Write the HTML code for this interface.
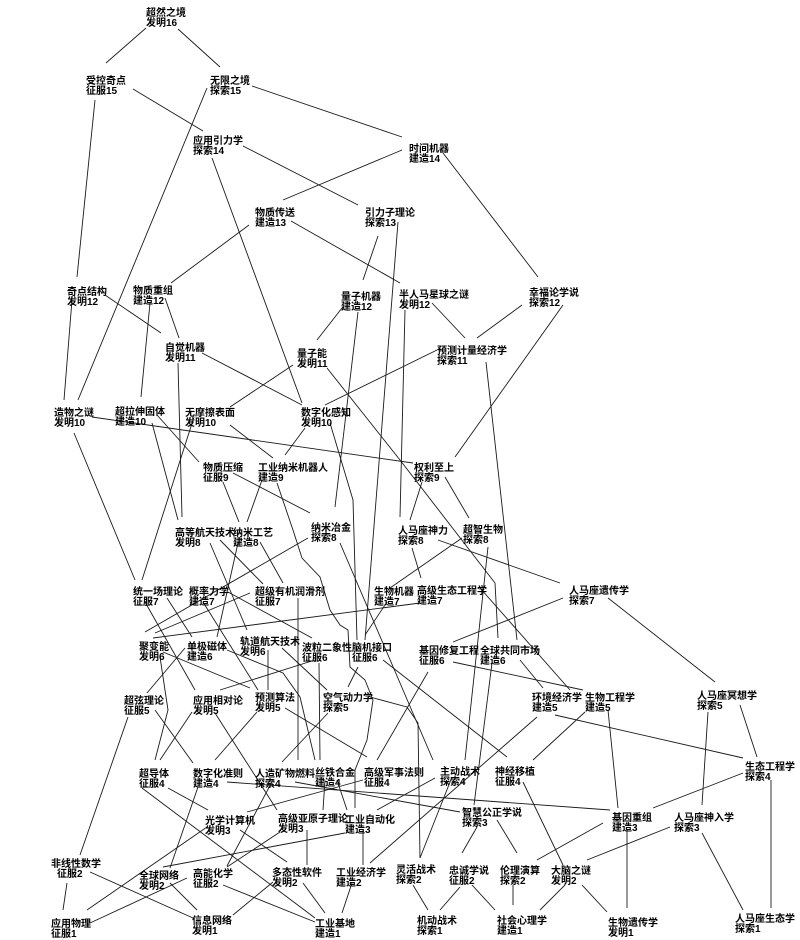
<!DOCTYPE html>
<html><head><meta charset="utf-8"><style>
html,body{margin:0;padding:0;background:#fff;}
svg{display:block;}
text{font-family:"Liberation Sans","Noto Sans CJK SC","WenQuanYi Zen Hei",sans-serif;font-size:10px;font-weight:bold;fill:#000;}
</style></head><body>
<svg width="800" height="940" viewBox="0 0 800 940" xmlns="http://www.w3.org/2000/svg">
<g stroke="#1a1a1a" stroke-width="0.9" fill="none">
<line x1="146" y1="28" x2="106" y2="63"/>
<line x1="178" y1="29" x2="220" y2="67"/>
<line x1="133" y1="89" x2="203" y2="131"/>
<line x1="95" y1="100" x2="77" y2="277"/>
<line x1="207" y1="88" x2="78" y2="400"/>
<line x1="252" y1="86" x2="402" y2="137"/>
<line x1="402" y1="150" x2="283" y2="200"/>
<line x1="243" y1="146" x2="358" y2="205"/>
<line x1="212" y1="158" x2="302" y2="403"/>
<line x1="249" y1="225" x2="171" y2="283"/>
<line x1="291" y1="221" x2="400" y2="283"/>
<line x1="378" y1="236" x2="363" y2="280"/>
<line x1="398" y1="222" x2="365" y2="640"/>
<line x1="443" y1="153" x2="538" y2="277"/>
<line x1="105" y1="295" x2="161" y2="333"/>
<line x1="72" y1="300" x2="64" y2="400"/>
<line x1="150" y1="303" x2="141" y2="397"/>
<line x1="165" y1="298" x2="179" y2="338"/>
<line x1="342" y1="308" x2="317" y2="340"/>
<line x1="358" y1="312" x2="335" y2="507"/>
<line x1="202" y1="353" x2="302" y2="405"/>
<line x1="178" y1="363" x2="182" y2="517"/>
<line x1="293" y1="365" x2="230" y2="407"/>
<polyline points="327,368 400,460 495,583 498,638"/>
<line x1="305" y1="428" x2="285" y2="455"/>
<polyline points="330,423 353,500 357,640"/>
<line x1="437" y1="350" x2="325" y2="405"/>
<line x1="92" y1="417" x2="413" y2="463"/>
<line x1="74" y1="433" x2="135" y2="580"/>
<line x1="157" y1="415" x2="199" y2="462"/>
<line x1="152" y1="423" x2="178" y2="520"/>
<line x1="194" y1="417" x2="142" y2="580"/>
<line x1="230" y1="425" x2="273" y2="458"/>
<line x1="223" y1="482" x2="239" y2="522"/>
<line x1="233" y1="473" x2="310" y2="513"/>
<line x1="262" y1="480" x2="247" y2="522"/>
<polyline points="277,483 293,530 302,558 320,577 330,610 340,625 348,630 350,667 365,680 373,700 367,740 355,770 355,808"/>
<line x1="308" y1="538" x2="145" y2="632"/>
<line x1="340" y1="543" x2="433" y2="760"/>
<line x1="210" y1="543" x2="247" y2="630"/>
<line x1="220" y1="540" x2="263" y2="584"/>
<line x1="238" y1="543" x2="217" y2="637"/>
<line x1="260" y1="542" x2="283" y2="583"/>
<line x1="298" y1="598" x2="298" y2="760"/>
<line x1="250" y1="593" x2="155" y2="633"/>
<line x1="145" y1="602" x2="195" y2="690"/>
<line x1="167" y1="598" x2="192" y2="637"/>
<line x1="203" y1="602" x2="258" y2="690"/>
<line x1="228" y1="592" x2="312" y2="638"/>
<line x1="153" y1="638" x2="420" y2="603"/>
<line x1="387" y1="602" x2="365" y2="635"/>
<line x1="405" y1="310" x2="400" y2="517"/>
<line x1="432" y1="303" x2="465" y2="338"/>
<line x1="522" y1="305" x2="477" y2="338"/>
<line x1="563" y1="305" x2="455" y2="457"/>
<line x1="486" y1="362" x2="517" y2="640"/>
<line x1="422" y1="482" x2="410" y2="520"/>
<line x1="445" y1="477" x2="469" y2="518"/>
<line x1="488" y1="547" x2="465" y2="760"/>
<line x1="462" y1="538" x2="390" y2="588"/>
<line x1="438" y1="540" x2="560" y2="583"/>
<line x1="412" y1="548" x2="421" y2="578"/>
<line x1="480" y1="588" x2="570" y2="690"/>
<line x1="563" y1="598" x2="453" y2="642"/>
<line x1="608" y1="598" x2="715" y2="682"/>
<line x1="453" y1="662" x2="583" y2="690"/>
<line x1="428" y1="672" x2="377" y2="760"/>
<line x1="492" y1="663" x2="474" y2="805"/>
<line x1="520" y1="660" x2="543" y2="688"/>
<line x1="383" y1="660" x2="507" y2="757"/>
<line x1="555" y1="715" x2="743" y2="758"/>
<line x1="537" y1="717" x2="370" y2="863"/>
<line x1="585" y1="712" x2="533" y2="760"/>
<line x1="608" y1="710" x2="618" y2="808"/>
<line x1="740" y1="705" x2="757" y2="757"/>
<line x1="708" y1="712" x2="702" y2="805"/>
<line x1="743" y1="773" x2="653" y2="808"/>
<line x1="771" y1="780" x2="771" y2="908"/>
<line x1="227" y1="782" x2="610" y2="810"/>
<line x1="295" y1="782" x2="460" y2="812"/>
<line x1="452" y1="777" x2="420" y2="858"/>
<line x1="435" y1="778" x2="377" y2="810"/>
<polyline points="370,697 407,707 418,723 420,858"/>
<line x1="477" y1="827" x2="462" y2="853"/>
<line x1="497" y1="820" x2="517" y2="853"/>
<line x1="523" y1="782" x2="563" y2="865"/>
<line x1="603" y1="823" x2="537" y2="860"/>
<line x1="670" y1="827" x2="587" y2="860"/>
<line x1="702" y1="833" x2="743" y2="910"/>
<line x1="627" y1="830" x2="627" y2="908"/>
<line x1="413" y1="885" x2="428" y2="910"/>
<line x1="460" y1="887" x2="440" y2="910"/>
<line x1="472" y1="885" x2="495" y2="910"/>
<line x1="513" y1="885" x2="513" y2="905"/>
<line x1="565" y1="885" x2="540" y2="910"/>
<line x1="582" y1="885" x2="607" y2="912"/>
<polyline points="160,657 168,710 155,760"/>
<line x1="185" y1="648" x2="147" y2="693"/>
<line x1="163" y1="652" x2="250" y2="688"/>
<polyline points="227,650 283,673 300,697 315,760"/>
<line x1="268" y1="650" x2="268" y2="690"/>
<line x1="282" y1="648" x2="327" y2="690"/>
<line x1="315" y1="660" x2="220" y2="690"/>
<line x1="319" y1="663" x2="320" y2="760"/>
<line x1="358" y1="667" x2="348" y2="687"/>
<line x1="128" y1="717" x2="80" y2="855"/>
<line x1="155" y1="710" x2="193" y2="763"/>
<line x1="192" y1="712" x2="160" y2="760"/>
<line x1="215" y1="713" x2="277" y2="810"/>
<line x1="257" y1="712" x2="215" y2="760"/>
<line x1="285" y1="708" x2="367" y2="757"/>
<line x1="328" y1="713" x2="282" y2="762"/>
<line x1="168" y1="788" x2="208" y2="810"/>
<line x1="142" y1="788" x2="315" y2="918"/>
<line x1="198" y1="787" x2="170" y2="868"/>
<line x1="273" y1="780" x2="227" y2="866"/>
<line x1="325" y1="780" x2="323" y2="810"/>
<line x1="337" y1="780" x2="347" y2="810"/>
<line x1="363" y1="780" x2="247" y2="812"/>
<line x1="345" y1="833" x2="163" y2="867"/>
<line x1="363" y1="830" x2="363" y2="865"/>
<line x1="207" y1="827" x2="87" y2="910"/>
<line x1="240" y1="830" x2="287" y2="862"/>
<line x1="280" y1="832" x2="227" y2="867"/>
<line x1="307" y1="830" x2="307" y2="865"/>
<line x1="67" y1="883" x2="63" y2="910"/>
<line x1="90" y1="872" x2="193" y2="918"/>
<line x1="170" y1="883" x2="197" y2="910"/>
<line x1="187" y1="878" x2="90" y2="923"/>
<line x1="223" y1="885" x2="315" y2="922"/>
<line x1="273" y1="882" x2="233" y2="915"/>
<line x1="303" y1="883" x2="325" y2="913"/>
<line x1="352" y1="883" x2="342" y2="913"/>
</g>
<g>
<text x="146" y="16">超然之境<tspan x="146" dy="10">发明16</tspan></text>
<text x="86" y="84">受控奇点<tspan x="86" dy="10">征服15</tspan></text>
<text x="210" y="84">无限之境<tspan x="210" dy="10">探索15</tspan></text>
<text x="193" y="144">应用引力学<tspan x="193" dy="10">探索14</tspan></text>
<text x="409" y="152">时间机器<tspan x="409" dy="10">建造14</tspan></text>
<text x="255" y="216">物质传送<tspan x="255" dy="10">建造13</tspan></text>
<text x="365" y="216">引力子理论<tspan x="365" dy="10">探索13</tspan></text>
<text x="67" y="295">奇点结构<tspan x="67" dy="10">发明12</tspan></text>
<text x="133" y="294">物质重组<tspan x="133" dy="10">建造12</tspan></text>
<text x="341" y="300">量子机器<tspan x="341" dy="10">建造12</tspan></text>
<text x="399" y="298">半人马星球之谜<tspan x="399" dy="10">发明12</tspan></text>
<text x="529" y="296">幸福论学说<tspan x="529" dy="10">探索12</tspan></text>
<text x="165" y="351">自觉机器<tspan x="165" dy="10">发明11</tspan></text>
<text x="297" y="357">量子能<tspan x="297" dy="10">发明11</tspan></text>
<text x="437" y="354">预测计量经济学<tspan x="437" dy="10">探索11</tspan></text>
<text x="54" y="416">造物之谜<tspan x="54" dy="10">发明10</tspan></text>
<text x="115" y="415">超拉伸固体<tspan x="115" dy="10">建造10</tspan></text>
<text x="185" y="416">无摩擦表面<tspan x="185" dy="10">发明10</tspan></text>
<text x="301" y="416">数字化感知<tspan x="301" dy="10">发明10</tspan></text>
<text x="203" y="471">物质压缩<tspan x="203" dy="10">征服9</tspan></text>
<text x="258" y="471">工业纳米机器人<tspan x="258" dy="10">建造9</tspan></text>
<text x="414" y="471">权利至上<tspan x="414" dy="10">探索9</tspan></text>
<text x="311" y="531">纳米冶金<tspan x="311" dy="10">探索8</tspan></text>
<text x="175" y="536">高等航天技术<tspan x="175" dy="10">发明8</tspan></text>
<text x="233" y="536">纳米工艺<tspan x="233" dy="10">建造8</tspan></text>
<text x="398" y="534">人马座神力<tspan x="398" dy="10">探索8</tspan></text>
<text x="463" y="533">超智生物<tspan x="463" dy="10">探索8</tspan></text>
<text x="133" y="595">统一场理论<tspan x="133" dy="10">征服7</tspan></text>
<text x="189" y="595">概率力学<tspan x="189" dy="10">建造7</tspan></text>
<text x="255" y="595">超级有机润滑剂<tspan x="255" dy="10">征服7</tspan></text>
<text x="374" y="595">生物机器<tspan x="374" dy="10">建造7</tspan></text>
<text x="417" y="594">高级生态工程学<tspan x="417" dy="10">建造7</tspan></text>
<text x="569" y="594">人马座遗传学<tspan x="569" dy="10">探索7</tspan></text>
<text x="139" y="650">聚变能<tspan x="139" dy="10">发明6</tspan></text>
<text x="187" y="650">单极磁体<tspan x="187" dy="10">建造6</tspan></text>
<text x="240" y="645">轨道航天技术<tspan x="240" dy="10">发明6</tspan></text>
<text x="302" y="651">波粒二象性<tspan x="302" dy="10">征服6</tspan></text>
<text x="352" y="651">脑机接口<tspan x="352" dy="10">征服6</tspan></text>
<text x="419" y="654">基因修复工程<tspan x="419" dy="10">征服6</tspan></text>
<text x="480" y="654">全球共同市场<tspan x="480" dy="10">建造6</tspan></text>
<text x="124" y="704">超弦理论<tspan x="124" dy="10">征服5</tspan></text>
<text x="193" y="704">应用相对论<tspan x="193" dy="10">发明5</tspan></text>
<text x="255" y="701">预测算法<tspan x="255" dy="10">发明5</tspan></text>
<text x="323" y="701">空气动力学<tspan x="323" dy="10">探索5</tspan></text>
<text x="532" y="701">环境经济学<tspan x="532" dy="10">建造5</tspan></text>
<text x="585" y="701">生物工程学<tspan x="585" dy="10">建造5</tspan></text>
<text x="697" y="699">人马座冥想学<tspan x="697" dy="10">探索5</tspan></text>
<text x="139" y="777">超导体<tspan x="139" dy="10">征服4</tspan></text>
<text x="193" y="777">数字化准则<tspan x="193" dy="10">建造4</tspan></text>
<text x="255" y="777">人造矿物燃料<tspan x="255" dy="10">探索4</tspan></text>
<text x="315" y="776">丝铁合金<tspan x="315" dy="10">建造4</tspan></text>
<text x="364" y="776">高级军事法则<tspan x="364" dy="10">征服4</tspan></text>
<text x="440" y="775">主动战术<tspan x="440" dy="10">探索4</tspan></text>
<text x="495" y="775">神经移植<tspan x="495" dy="10">征服4</tspan></text>
<text x="745" y="770">生态工程学<tspan x="745" dy="10">探索4</tspan></text>
<text x="205" y="824">光学计算机<tspan x="205" dy="10">发明3</tspan></text>
<text x="278" y="822">高级亚原子理论<tspan x="278" dy="10">发明3</tspan></text>
<text x="345" y="823">工业自动化<tspan x="345" dy="10">建造3</tspan></text>
<text x="462" y="816">智慧公正学说<tspan x="462" dy="10">探索3</tspan></text>
<text x="612" y="821">基因重组<tspan x="612" dy="10">建造3</tspan></text>
<text x="674" y="821">人马座神入学<tspan x="674" dy="10">探索3</tspan></text>
<text x="51" y="867">非线性数学<tspan x="57" dy="10">征服2</tspan></text>
<text x="139" y="879">全球网络<tspan x="139" dy="10">发明2</tspan></text>
<text x="193" y="877">高能化学<tspan x="193" dy="10">征服2</tspan></text>
<text x="272" y="876">多态性软件<tspan x="272" dy="10">发明2</tspan></text>
<text x="336" y="876">工业经济学<tspan x="336" dy="10">建造2</tspan></text>
<text x="396" y="873">灵活战术<tspan x="396" dy="10">探索2</tspan></text>
<text x="449" y="874">忠诚学说<tspan x="449" dy="10">征服2</tspan></text>
<text x="500" y="874">伦理演算<tspan x="500" dy="10">探索2</tspan></text>
<text x="551" y="874">大脑之谜<tspan x="551" dy="10">发明2</tspan></text>
<text x="51" y="927">应用物理<tspan x="51" dy="10">征服1</tspan></text>
<text x="192" y="924">信息网络<tspan x="192" dy="10">发明1</tspan></text>
<text x="315" y="927">工业基地<tspan x="315" dy="10">建造1</tspan></text>
<text x="417" y="924">机动战术<tspan x="417" dy="10">探索1</tspan></text>
<text x="497" y="924">社会心理学<tspan x="497" dy="10">建造1</tspan></text>
<text x="608" y="926">生物遗传学<tspan x="608" dy="10">发明1</tspan></text>
<text x="735" y="922">人马座生态学<tspan x="735" dy="10">探索1</tspan></text>
</g>
</svg>
</body></html>
